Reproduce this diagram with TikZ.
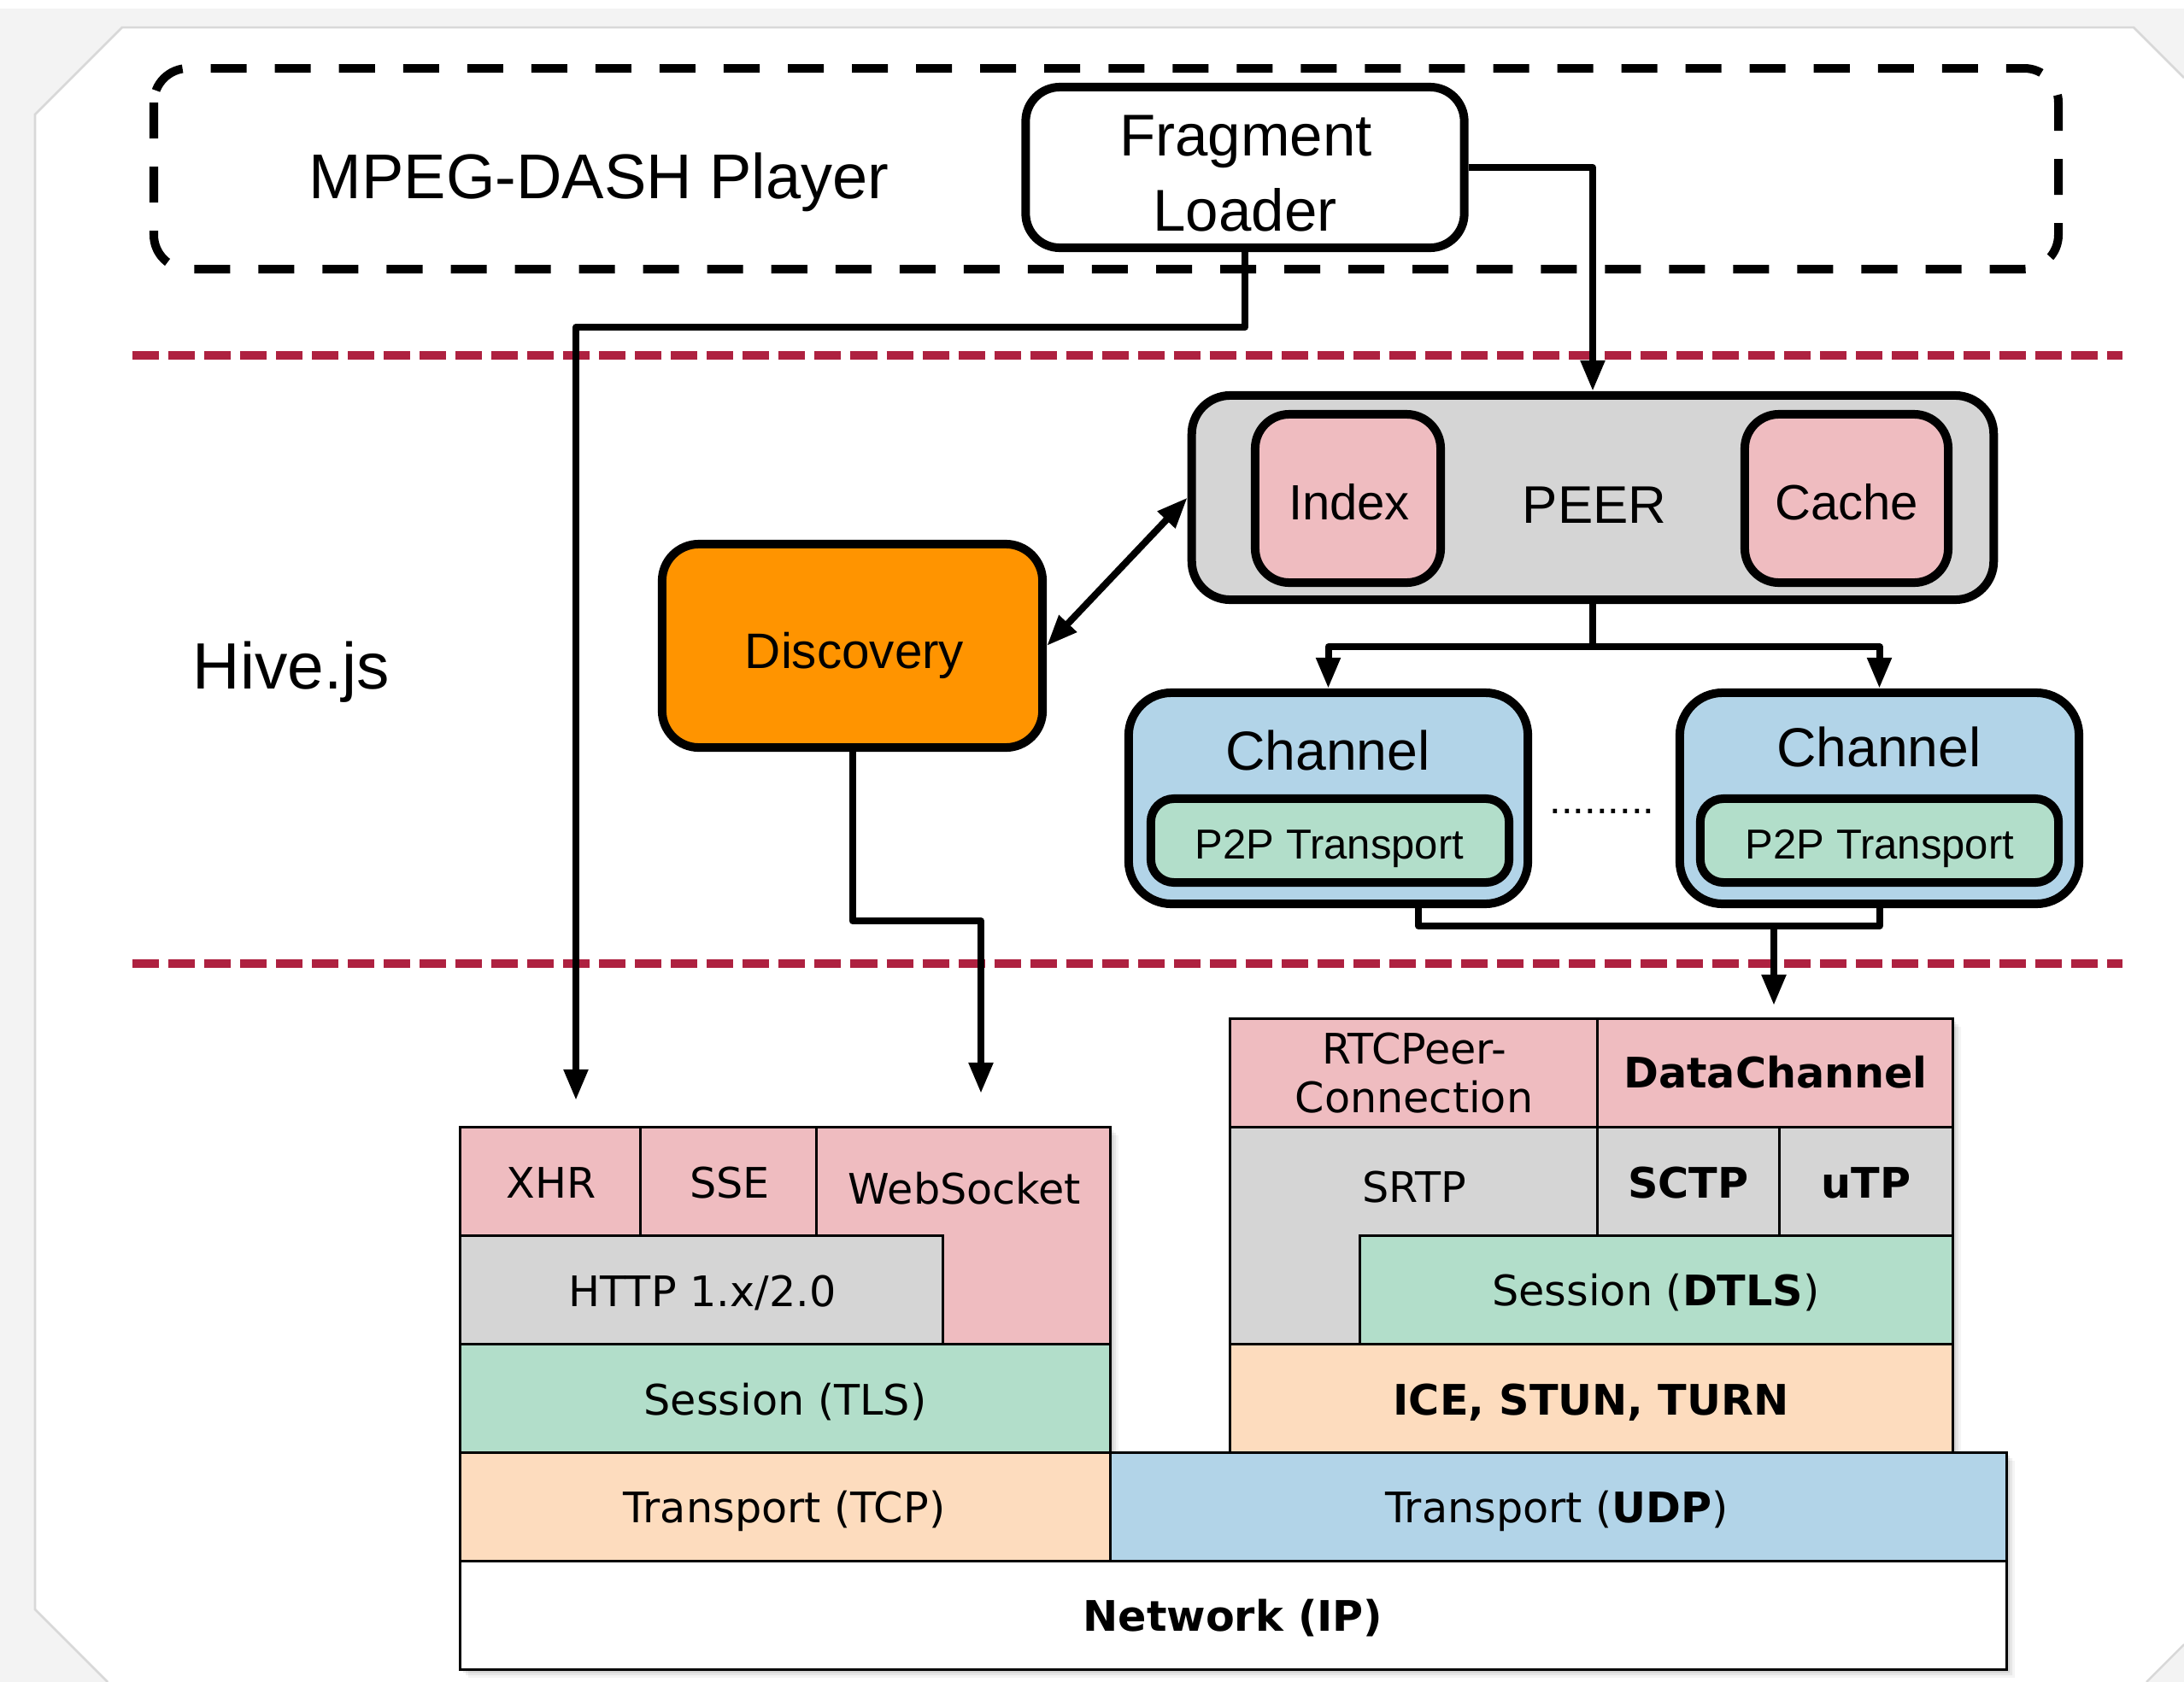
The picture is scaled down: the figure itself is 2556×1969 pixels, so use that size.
\documentclass[tikz,border=0pt]{standalone}
\usepackage{fontspec}
\setmainfont{Liberation Sans}
\newfontfamily\stackfont{DejaVu Sans}
\usetikzlibrary{arrows.meta}

\definecolor{pagegrey}{HTML}{F3F3F3}
\definecolor{pageedge}{HTML}{D8D8D8}
\definecolor{layerred}{HTML}{AE2140}
\definecolor{cellpink}{HTML}{EFBCC0}
\definecolor{cellgrey}{HTML}{D5D5D5}
\definecolor{cellmint}{HTML}{B2DECA}
\definecolor{cellpeach}{HTML}{FDDCBE}
\definecolor{cellblue}{HTML}{B2D4E8}
\definecolor{discorange}{HTML}{FF9400}

\tikzset{
  box/.style={draw=black, line width=0.1cm, rounded corners=0.4cm, inner sep=0pt},
  link/.style={draw=black, line width=0.08cm, line join=round},
  headed/.style={-{Triangle[length=0.36cm,width=0.27cm]}},
  bothheaded/.style={{Triangle[length=0.36cm,width=0.27cm]}-{Triangle[length=0.36cm,width=0.27cm]}},
  layerline/.style={draw=layerred, line width=0.1cm, dash pattern=on 0.31cm off 0.11cm},
  cell/.style={draw=black, line width=0.03cm},
  lbl/.style={anchor=base, inner sep=0pt},
  stk/.style={lbl, font=\stackfont\fontsize{14}{16}\selectfont},
}

\begin{document}
\begin{tikzpicture}[x=0.01cm, y=-0.01cm]
\useasboundingbox (0,0) rectangle (2556,1969);

% ---- backdrop and page ----
\fill[pagegrey] (0,0) rectangle (2556,1969);
\fill[white] (0,0) rectangle (2556,10);
\fill[white] (143,32) -- (2497,32) -- (2556,91) -- (2556,1925) -- (2512,1969)
  -- (126,1969) -- (41,1884) -- (41,134) -- cycle;
\draw[pageedge, line width=0.025cm] (126,1969) -- (41,1884) -- (41,134) -- (143,32)
  -- (2497,32) -- (2556,91);
\draw[pageedge, line width=0.025cm] (2556,1925) -- (2512,1969);

% ---- layer separators ----
\draw[layerline] (155,416) -- (2484,416);
\draw[layerline] (155,1128) -- (2484,1128);

% ---- player container ----
\draw[black, line width=0.1cm, dash pattern=on 0.42cm off 0.33cm, rounded corners=0.4cm]
  (180,80) rectangle (2409,315);
\node[lbl, font=\fontsize{21.05}{24}\selectfont] (player) at (701,232) {MPEG-DASH Player};
\node[lbl, anchor=base west, font=\fontsize{21.8}{25}\selectfont] (hive) at (225,806) {Hive.js};

% ---- component boxes ----
\node[box, fill=white, minimum width=5.13cm, minimum height=1.88cm] (frag) at (1457,196) {};
\node[box, fill=cellgrey, rounded corners=0.45cm, minimum width=9.38cm, minimum height=2.39cm] (peer) at (1864,582.5) {};
\node[box, fill=cellpink, minimum width=2.17cm, minimum height=1.97cm] (index) at (1577.5,583.5) {};
\node[box, fill=cellpink, minimum width=2.38cm, minimum height=1.97cm] (cache) at (2161,583.5) {};
\node[box, fill=discorange, rounded corners=0.43cm, minimum width=4.45cm, minimum height=2.38cm] (disc) at (997.5,756) {};
\node[box, fill=cellblue, rounded corners=0.5cm, minimum width=4.67cm, minimum height=2.47cm] (chL) at (1554.5,934.5) {};
\node[box, fill=cellblue, rounded corners=0.5cm, minimum width=4.67cm, minimum height=2.47cm] (chR) at (2199.5,934.5) {};
\node[box, fill=cellmint, rounded corners=0.27cm, minimum width=4.19cm, minimum height=0.98cm] (p2pL) at (1556.5,984) {};
\node[box, fill=cellmint, rounded corners=0.27cm, minimum width=4.19cm, minimum height=0.98cm] (p2pR) at (2199.5,984) {};

% ---- component labels ----
\node[lbl, font=\fontsize{19.63}{22}\selectfont] (fragA) at (1458,182) {Fragment};
\node[lbl, font=\fontsize{19.63}{22}\selectfont] (fragB) at (1457,270) {Loader};
\node[lbl, font=\fontsize{17.6}{20}\selectfont] (peerlbl) at (1866,612) {PEER};
\node[lbl, font=\fontsize{16.5}{19}\selectfont] (indexlbl) at (1579,608) {Index};
\node[lbl, font=\fontsize{16.5}{19}\selectfont] (cachelbl) at (2161,608) {Cache};
\node[lbl, font=\fontsize{16.6}{19}\selectfont] (disclbl) at (1000,782) {Discovery};
\node[lbl, font=\fontsize{18.3}{21}\selectfont] (chLlbl) at (1554,901) {Channel};
\node[lbl, font=\fontsize{18.3}{21}\selectfont] (chRlbl) at (2199,897) {Channel};
\node[lbl, font=\fontsize{13.94}{16}\selectfont] (p2pLlbl) at (1556,1005) {P2P Transport};
\node[lbl, font=\fontsize{13.94}{16}\selectfont] (p2pRlbl) at (2200,1005) {P2P Transport};
\node[lbl, font=\fontsize{13.94}{16}\selectfont] (more) at (1875,952) {.........};

% ---- connectors ----
\coordinate (xhrin) at (674,1288);
\coordinate (wsin) at (1148,1280);
\coordinate (merge) at (2076,1084);
\coordinate (dcin) at (2076,1177);

\draw[link, headed] (frag.east) -| (peer.north);
\draw[link, headed] (frag.south) |- (674,383) -- (xhrin);
\draw[link, bothheaded] (disc.east) -- (peer.west);
\draw[link, headed] (disc.south) |- (1148,1078) -- (wsin);
\draw[link, headed] (peer.south) -- ++(0,50) -| (chL.north);
\draw[link, headed] (peer.south) -- ++(0,50) -| (chR.north);
\draw[link] ([xshift=1.055cm]chL.south) |- (merge) -| (chR.south);
\draw[link, headed] (merge) -- (dcin);

% ---- protocol stack: soft shadow ----
\foreach \d/\o in {10/0.04, 7/0.06, 4/0.08} {
  \fill[black, opacity=\o, shift={(\d,\d)}]
    (538,1319) -- (1299,1319) -- (1299,1700) -- (1439,1700) -- (1439,1192)
    -- (2285,1192) -- (2285,1700) -- (2348,1700) -- (2348,1954) -- (538,1954) -- cycle;
}

% ---- protocol stack: HTTP side ----
\filldraw[cell, fill=cellpink] (538,1319) rectangle (749,1446);
\filldraw[cell, fill=cellpink] (749,1319) rectangle (955,1446);
\filldraw[cell, fill=cellpink] (955,1319) -- (1299,1319) -- (1299,1573) -- (1103,1573)
  -- (1103,1446) -- (955,1446) -- cycle;
\filldraw[cell, fill=cellgrey] (538,1446) rectangle (1103,1573);
\filldraw[cell, fill=cellmint] (538,1573) rectangle (1299,1700);
\filldraw[cell, fill=cellpeach] (538,1700) rectangle (1299,1827);
\filldraw[cell, fill=cellblue] (1299,1700) rectangle (2348,1827);
\filldraw[cell, fill=white] (538,1827) rectangle (2348,1954);

% ---- protocol stack: WebRTC side ----
\filldraw[cell, fill=cellpink] (1439,1192) rectangle (1869,1319);
\filldraw[cell, fill=cellpink] (1869,1192) rectangle (2285,1319);
\filldraw[cell, fill=cellgrey] (1439,1319) -- (1869,1319) -- (1869,1446) -- (1591,1446)
  -- (1591,1573) -- (1439,1573) -- cycle;
\filldraw[cell, fill=cellgrey] (1869,1319) rectangle (2082,1446);
\filldraw[cell, fill=cellgrey] (2082,1319) rectangle (2285,1446);
\filldraw[cell, fill=cellmint] (1591,1446) rectangle (2285,1573);
\filldraw[cell, fill=cellpeach] (1439,1573) rectangle (2285,1700);

% ---- protocol stack labels ----
\node[stk] (xhr) at (645,1402) {XHR};
\node[stk] (sse) at (854,1402) {SSE};
\node[stk] (ws) at (1129,1409) {WebSocket};
\node[stk] (http) at (822,1529) {HTTP 1.x/2.0};
\node[stk] (tls) at (919,1656) {Session (TLS)};
\node[stk] (tcp) at (918,1782) {Transport (TCP)};
\node[stk] (udp) at (1822,1782) {Transport (\textbf{UDP})};
\node[stk] (ip) at (1443,1909) {\textbf{Network (IP)}};
\node[stk] (rtcA) at (1655,1245) {RTCPeer-};
\node[stk] (rtcB) at (1655,1302) {Connection};
\node[stk] (dc) at (2078,1273) {\textbf{DataChannel}};
\node[stk] (srtp) at (1655,1407) {SRTP};
\node[stk] (sctp) at (1976,1402) {\textbf{SCTP}};
\node[stk] (utp) at (2184,1402) {\textbf{uTP}};
\node[stk] (dtls) at (1938,1528) {Session (\textbf{DTLS})};
\node[stk] (ice) at (1862,1656) {\textbf{ICE, STUN, TURN}};
\end{tikzpicture}
\end{document}
